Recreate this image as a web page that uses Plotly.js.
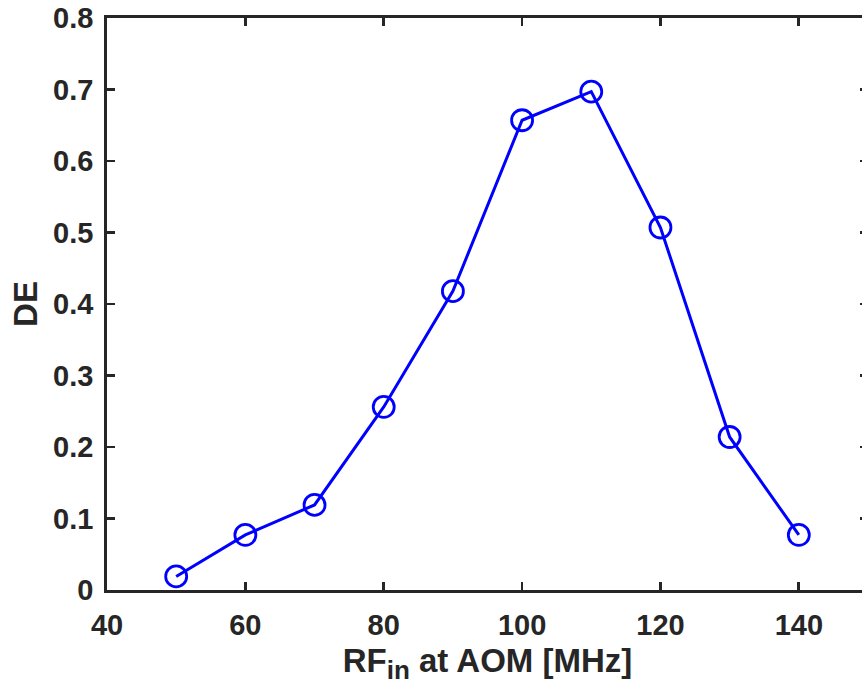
<!DOCTYPE html>
<html>
<head>
<meta charset="utf-8">
<script src="https://cdn.plot.ly/plotly-3.0.1.min.js"></script>
<style>
html,body{margin:0;padding:0;overflow:hidden;background:#fff;}
#chart{width:870px;height:693px;}
</style>
</head>
<body>
<div id="chart"></div>
<script>
const rfMHz = [50, 60, 70, 80, 90, 100, 110, 120, 130, 140];
const deValues = [0.019, 0.077, 0.119, 0.256, 0.418, 0.657, 0.697, 0.507, 0.214, 0.077];
const xTicks = [40, 60, 80, 100, 120, 140];
const yTicks = [0, 0.1, 0.2, 0.3, 0.4, 0.5, 0.6, 0.7, 0.8];
const yTickLabels = ['0', '0.1', '0.2', '0.3', '0.4', '0.5', '0.6', '0.7', '0.8'];

const ink = '#262626';
const trace = {
  x: rfMHz, y: deValues, type: 'scatter', mode: 'lines+markers',
  line: {color: '#0000ff', width: 3},
  marker: {symbol: 'circle-open', size: 21, color: '#0000ff', line: {width: 2.8, color: '#0000ff'}},
  cliponaxis: false
};
const axisCommon = {
  showline: true, linecolor: ink, linewidth: 2.8, mirror: 'ticks',
  ticks: 'inside', ticklen: 8, tickwidth: 2.8, tickcolor: ink,
  showgrid: false, zeroline: false,
  tickfont: {family: 'Liberation Sans, Arial, sans-serif', size: 29, color: ink, weight: 'bold'}
};
const layout = {
  width: 870, height: 693,
  margin: {l: 107, r: 2, t: 18, b: 103},
  paper_bgcolor: '#fff', plot_bgcolor: '#fff',
  showlegend: false,
  xaxis: Object.assign({}, axisCommon, {
    range: [40, 150], tickvals: xTicks, ticktext: xTicks.map(String),
    ticklabelstandoff: 7,
    title: {text: 'RF<sub><span style="font-size:26px">in</span></sub> at AOM [MHz]', standoff: 10,
      font: {family: 'Liberation Sans, Arial, sans-serif', size: 33, color: ink, weight: 'bold'}}
  }),
  yaxis: Object.assign({}, axisCommon, {
    range: [0, 0.8], tickvals: yTicks, ticktext: yTickLabels,
    ticklabelstandoff: 5,
    title: {text: 'DE', standoff: 6,
      font: {family: 'Liberation Sans, Arial, sans-serif', size: 33, color: ink, weight: 'bold'}}
  })
};
Plotly.newPlot('chart', [trace], layout, {displayModeBar: false, staticPlot: true});
</script>
</body>
</html>
